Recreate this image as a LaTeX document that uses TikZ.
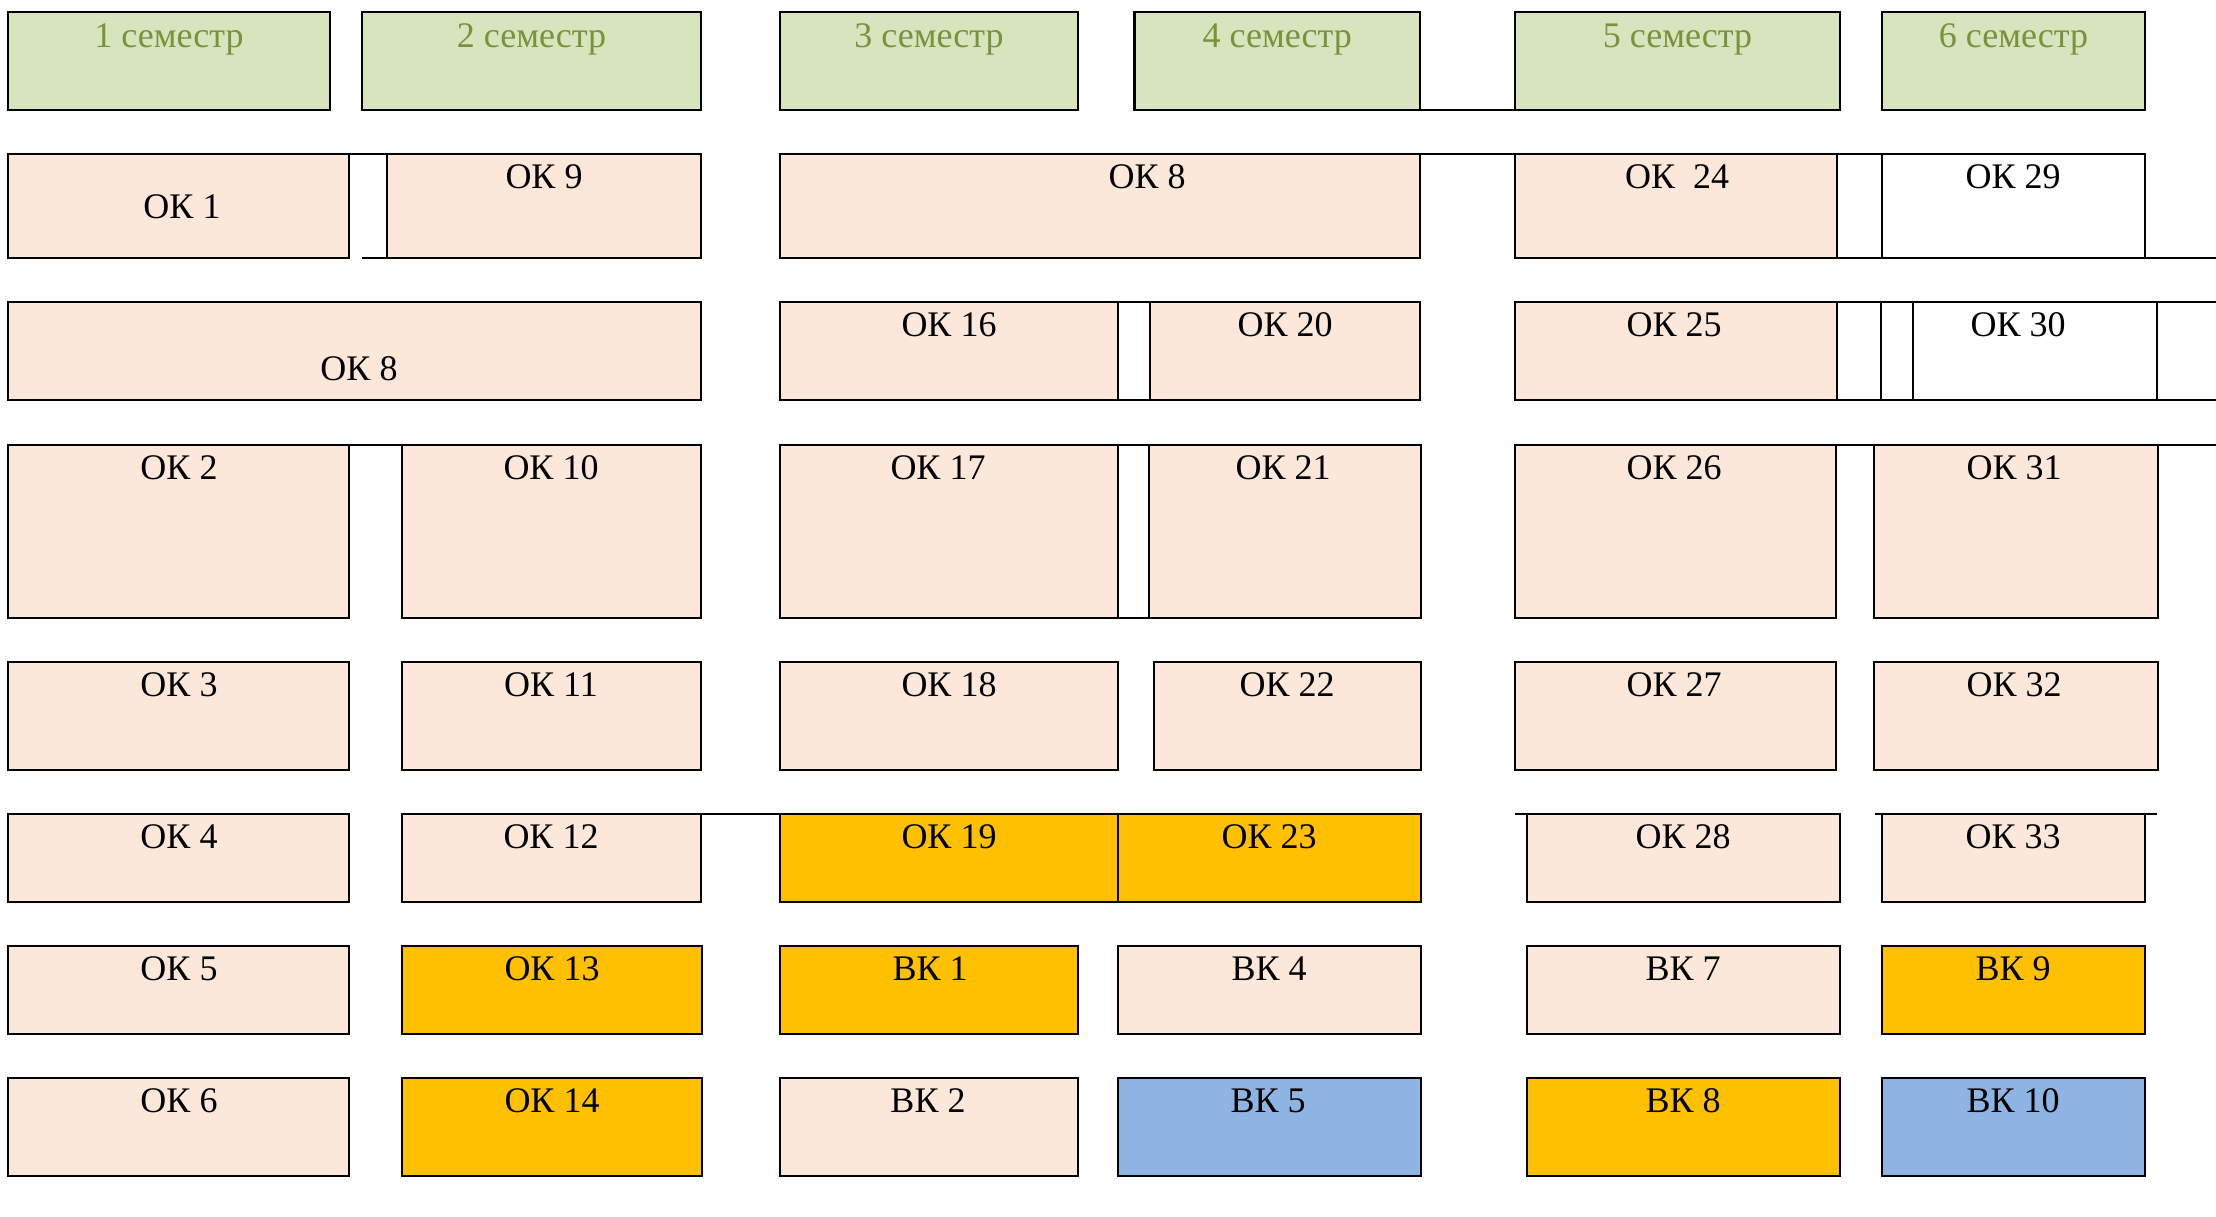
\documentclass[tikz,border=0pt]{standalone}
\usepackage{fontspec}
\setmainfont{Liberation Serif}
\usetikzlibrary{fit}
\definecolor{semfill}{HTML}{D7E4BD}
\definecolor{semtext}{HTML}{77933C}
\definecolor{peach}{HTML}{FCE8DA}
\definecolor{gold}{HTML}{FFC000}
\definecolor{sky}{HTML}{8EB4E3}
\tikzset{
  cellbox/.style={draw=black, line width=1.25pt, inner sep=0pt, outer sep=0pt},
  sembox/.style={cellbox, fill=semfill},
  pbox/.style={cellbox, fill=peach},
  obox/.style={cellbox, fill=gold},
  bbox/.style={cellbox, fill=sky},
  wbox/.style={cellbox, fill=white},
  txt/.style={anchor=base, inner sep=0pt, font=\fontsize{18}{21}\selectfont},
  semtxt/.style={txt, text=semtext},
  edge/.style={draw=black, line width=1.25pt}
}
\newcommand\mkcell[9]{%
  \node[#6, fit={(#2,#3) (#4,#5)}] (#1) {};
  \node[txt] (#1-t) at (#7,#8) {#9};
}
\newcommand\mksem[6]{%
  \node[sembox, fit={(#2,#3) (#4,#5)}] (#1) {};
  \node[semtxt] (#1-t) at ({(#2+#4)/2},47) {#6};
}
\begin{document}
\begin{tikzpicture}[x=0.5pt, y=-0.5pt]
\useasboundingbox[fill=white] (0,0) rectangle (2216,1216);
% semesters
\mksem{s1}{8}{12}{330}{110}{1 семестр}
\mksem{s2}{362}{12}{701}{110}{2 семестр}
\mksem{s3}{780}{12}{1078}{110}{3 семестр}
\mksem{s4}{1134.5}{12}{1420}{110}{4 семестр}
\mksem{s5}{1515}{12}{1840}{110}{5 семестр}
\mksem{s6}{1882}{12}{2145}{110}{6 семестр}
% row 1
\mkcell{ok1}{8}{154}{349}{258}{pbox}{182}{218}{ОК 1}
\mkcell{ok9}{387}{154}{701}{258}{pbox}{544}{188}{ОК 9}
\mkcell{ok8b}{780}{154}{1420}{258}{pbox}{1147}{188}{ОК 8}
\mkcell{ok24}{1515}{154}{1837}{258}{pbox}{1677}{188}{ОК~~24}
\mkcell{ok29}{1882}{154}{2145}{258}{wbox}{2013}{188}{ОК 29}
% row 2
\mkcell{ok8a}{8}{302}{701}{400}{pbox}{359}{380}{ОК 8}
\mkcell{ok16}{780}{302}{1118}{400}{pbox}{949}{336}{ОК 16}
\mkcell{ok20}{1150}{302}{1420}{400}{pbox}{1285}{336}{ОК 20}
\mkcell{ok25}{1515}{302}{1837}{400}{pbox}{1674}{336}{ОК 25}
\mkcell{ok30}{1913}{302}{2157}{400}{wbox}{2018}{336}{ОК 30}
% row 3
\mkcell{ok2}{8}{445}{349}{618}{pbox}{179}{479}{ОК 2}
\mkcell{ok10}{402}{445}{701}{618}{pbox}{551}{479}{ОК 10}
\mkcell{ok17}{780}{445}{1118}{618}{pbox}{938}{479}{ОК 17}
\mkcell{ok21}{1149}{445}{1421}{618}{pbox}{1283}{479}{ОК 21}
\mkcell{ok26}{1515}{445}{1836}{618}{pbox}{1674}{479}{ОК 26}
\mkcell{ok31}{1874}{445}{2158}{618}{pbox}{2014}{479}{ОК 31}
% row 4
\mkcell{ok3}{8}{662}{349}{770}{pbox}{179}{696}{ОК 3}
\mkcell{ok11}{402}{662}{701}{770}{pbox}{551}{696}{ОК 11}
\mkcell{ok18}{780}{662}{1118}{770}{pbox}{949}{696}{ОК 18}
\mkcell{ok22}{1154}{662}{1421}{770}{pbox}{1287}{696}{ОК 22}
\mkcell{ok27}{1515}{662}{1836}{770}{pbox}{1674}{696}{ОК 27}
\mkcell{ok32}{1874}{662}{2158}{770}{pbox}{2014}{696}{ОК 32}
% row 5
\mkcell{ok4}{8}{814}{349}{902}{pbox}{179}{848}{ОК 4}
\mkcell{ok12}{402}{814}{701}{902}{pbox}{551}{848}{ОК 12}
\mkcell{ok19}{780}{814}{1118}{902}{obox}{949}{848}{ОК 19}
\mkcell{ok23}{1118}{814}{1421}{902}{obox}{1269}{848}{ОК 23}
\mkcell{ok28}{1527}{814}{1840}{902}{pbox}{1683}{848}{ОК 28}
\mkcell{ok33}{1882}{814}{2145}{902}{pbox}{2013}{848}{ОК 33}
% row 6
\mkcell{ok5}{8}{946}{349}{1034}{pbox}{179}{980}{ОК 5}
\mkcell{ok13}{402}{946}{702}{1034}{obox}{552}{980}{ОК 13}
\mkcell{vk1}{780}{946}{1078}{1034}{obox}{930}{980}{ВК 1}
\mkcell{vk4}{1118}{946}{1421}{1034}{pbox}{1269}{980}{ВК 4}
\mkcell{vk7}{1527}{946}{1840}{1034}{pbox}{1683}{980}{ВК 7}
\mkcell{vk9}{1882}{946}{2145}{1034}{obox}{2013}{980}{ВК 9}
% row 7
\mkcell{ok6}{8}{1078}{349}{1176}{pbox}{179}{1112}{ОК 6}
\mkcell{ok14}{402}{1078}{702}{1176}{obox}{552}{1112}{ОК 14}
\mkcell{vk2}{780}{1078}{1078}{1176}{pbox}{928}{1112}{ВК 2}
\mkcell{vk5}{1118}{1078}{1421}{1176}{bbox}{1268}{1112}{ВК 5}
\mkcell{vk8}{1527}{1078}{1840}{1176}{obox}{1683}{1112}{ВК 8}
\mkcell{vk10}{1882}{1078}{2145}{1176}{bbox}{2013}{1112}{ВК 10}
% stray border segments
\coordinate (c1) at (362,258);
\coordinate (c2) at (2216,258);
\coordinate (c3) at (2216,302);
\coordinate (c4) at (2216,400);
\coordinate (c5) at (1881,302);
\coordinate (c6) at (1881,400);
\coordinate (c7) at (2216,445);
\coordinate (c8) at (1515,814);
\coordinate (c9) at (1875,814);
\coordinate (c10) at (2157,814);
\draw[edge] (s4.south east) -- (s5.south west);
\draw[edge] (ok1.north east) -- (ok9.north west);
\draw[edge] (c1) -- (ok9.south west);
\draw[edge] (ok8b.north east) -- (ok24.north west);
\draw[edge] (ok24.north east) -- (ok29.north west);
\draw[edge] (ok24.south east) -- (ok29.south west);
\draw[edge] (ok29.south east) -- (c2);
\draw[edge] (ok16.north east) -- (ok20.north west);
\draw[edge] (ok16.south east) -- (ok20.south west);
\draw[edge] (ok25.north east) -- (ok30.north west);
\draw[edge] (ok25.south east) -- (ok30.south west);
\draw[edge] (c5) -- (c6);
\draw[edge] (ok30.north east) -- (c3);
\draw[edge] (ok30.south east) -- (c4);
\draw[edge] (ok2.north east) -- (ok10.north west);
\draw[edge] (ok17.north east) -- (ok21.north west);
\draw[edge] (ok17.south east) -- (ok21.south west);
\draw[edge] (ok26.north east) -- (ok31.north west);
\draw[edge] (ok31.north east) -- (c7);
\draw[edge] (ok12.north east) -- (ok19.north west);
\draw[edge] (c8) -- (ok28.north west);
\draw[edge] (c9) -- (ok33.north west);
\draw[edge] (ok33.north east) -- (c10);
\end{tikzpicture}
\end{document}
